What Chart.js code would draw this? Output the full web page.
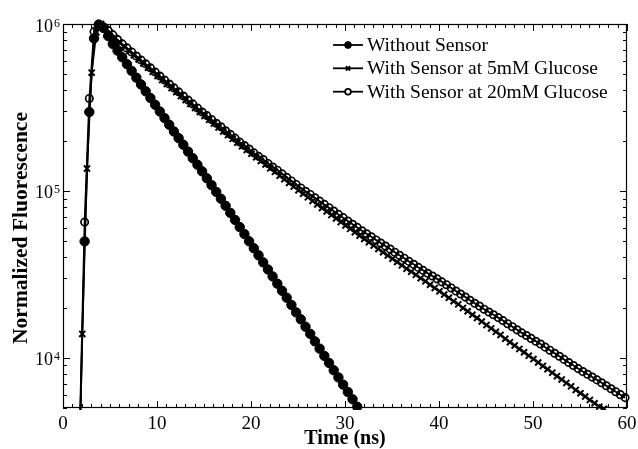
<!DOCTYPE html>
<html><head><meta charset="utf-8">
<script src="https://cdn.jsdelivr.net/npm/chart.js@4/dist/chart.umd.min.js"></script>
<style>html,body{margin:0;padding:0;background:#fff}#wrap{width:638px;height:449px}</style>
</head><body><div id="wrap"><canvas id="c" width="638" height="449"></canvas></div>
<script>
const seriesLabels = ['Without Sensor', 'With Sensor at 5mM Glucose', 'With Sensor at 20mM Glucose'];
const xTitle = 'Time (ns)';
const yTitle = 'Normalized Fluorescence';
const xTickValues = [0, 10, 20, 30, 40, 50, 60];
const xTickLabels = ['0', '10', '20', '30', '40', '50', '60'];
const yTickValues = [1e4, 1e5, 1e6];
const yTickBase = '10';
const yTickExponents = ['4', '5', '6'];

// time grid (ns) for "Without Sensor" and "20mM"
const timeA = [1.8,2.3,2.8,3.3,3.8,4.3,4.8,5.3,5.8,6.3,
6.8,7.3,7.8,8.3,8.8,9.3,9.8,10.3,10.8,11.3,
11.8,12.3,12.8,13.3,13.8,14.3,14.8,15.3,15.8,16.3,
16.8,17.3,17.8,18.3,18.8,19.3,19.8,20.3,20.8,21.3,
21.8,22.3,22.8,23.3,23.8,24.3,24.8,25.3,25.8,26.3,
26.8,27.3,27.8,28.3,28.8,29.3,29.8,30.3,30.8,31.3,
31.8,32.3,32.8,33.3,33.8,34.3,34.8,35.3,35.8,36.3,
36.8,37.3,37.8,38.3,38.8,39.3,39.8,40.3,40.8,41.3,
41.8,42.3,42.8,43.3,43.8,44.3,44.8,45.3,45.8,46.3,
46.8,47.3,47.8,48.3,48.8,49.3,49.8,50.3,50.8,51.3,
51.8,52.3,52.8,53.3,53.8,54.3,54.8,55.3,55.8,56.3,
56.8,57.3,57.8,58.3,58.8,59.3,59.8];

// time grid (ns) for "5mM"
const timeB = [1.55,2.05,2.55,3.05,3.55,4.05,4.55,5.05,5.55,6.05,
6.55,7.05,7.55,8.05,8.55,9.05,9.55,10.05,10.55,11.05,
11.55,12.05,12.55,13.05,13.55,14.05,14.55,15.05,15.55,16.05,
16.55,17.05,17.55,18.05,18.55,19.05,19.55,20.05,20.55,21.05,
21.55,22.05,22.55,23.05,23.55,24.05,24.55,25.05,25.55,26.05,
26.55,27.05,27.55,28.05,28.55,29.05,29.55,30.05,30.55,31.05,
31.55,32.05,32.55,33.05,33.55,34.05,34.55,35.05,35.55,36.05,
36.55,37.05,37.55,38.05,38.55,39.05,39.55,40.05,40.55,41.05,
41.55,42.05,42.55,43.05,43.55,44.05,44.55,45.05,45.55,46.05,
46.55,47.05,47.55,48.05,48.55,49.05,49.55,50.05,50.55,51.05,
51.55,52.05,52.55,53.05,53.55,54.05,54.55,55.05,55.55,56.05,
56.55,57.05,57.55];

const withoutSensor = [3500,49800,297000,820000,990000,946000,847000,
760000,693000,632000,575000,524000,477000,434000,395000,360000,328000,
299000,273000,249000,227000,207000,189000,172000,157000,143500,131000,
119000,108300,98600,89700,81400,73800,67000,60700,55100,49900,
45300,41100,37300,33800,30700,27800,25200,22900,20700,18700,
17000,15350,13900,12540,11340,10260,9310,8420,7620,6900,
6240,5640,5090];

const sensor5mM = [800,13900,136000,511000,891000,1000000,
935000,883000,824000,770000,728000,688000,649000,613000,579000,547000,
517000,488000,461000,437000,413000,391000,370000,350000,332000,314000,
297000,281000,267000,253000,240000,227000,216000,205000,194500,185000,
176000,167000,159000,151000,144000,136500,130000,123400,117400,111500,
106100,101000,96100,91500,87100,83000,79000,75300,71600,68300,
65000,62000,59200,56500,53900,51500,49200,47000,44900,42900,
41000,39200,37500,35800,34200,32800,31400,30000,28700,27400,
26200,25000,23900,22900,21800,20900,19900,19000,18100,17300,
16500,15700,15000,14300,13700,13000,12400,11850,11300,10790,
10290,9820,9370,8940,8530,8140,7760,7410,7070,6740,
6420,6130,5860,5590,5340,5090,4950];

const sensor20mM = [4000,65000,358000,900000,1000000,
963000,914000,861000,807000,760000,719000,680000,643000,609000,577000,
546000,516000,488000,462000,437000,414000,392000,370000,350000,332000,
314000,297000,282500,268000,254000,242000,229000,218000,207000,196000,
187000,178000,169000,161000,154000,146000,139000,133000,126500,120500,
114700,109300,104100,99400,95200,90900,86800,83000,79300,75700,
72300,69100,66000,63100,60400,57700,55300,53100,50800,48700,
46700,44800,42900,41100,39500,37800,36300,34800,33400,32100,
30900,29700,28500,27400,26200,25100,24100,23100,22100,21200,
20400,19550,18800,18100,17400,16700,16000,15350,14700,14100,
13600,13060,12560,12090,11580,11100,10640,10210,9780,9370,
8990,8610,8270,7960,7660,7370,7080,6790,6520,6260,
6010,5770];

const pairs = (ts, vs) => vs.map((v, i) => ({x: ts[i], y: v}));

const styles = [
  {pointStyle: 'circle', radius: 4.7, bg: '#000', bw: 1, legendRadius: 3.4},
  {pointStyle: 'crossRot', radius: 4.3, bg: '#000', bw: 2, legendRadius: 3},
  {pointStyle: 'circle', radius: 3.7, bg: 'rgba(0,0,0,0)', bw: 1.7, legendRadius: 2.9}
];
const seriesData = [pairs(timeA, withoutSensor), pairs(timeB, sensor5mM), pairs(timeA, sensor20mM)];

const SERIF = '"Liberation Serif", "Times New Roman", serif';

const framePlugin = {
  id: 'frame',
  afterDraw(chart) {
    const {ctx, chartArea: a, scales: {x, y}} = chart;
    ctx.save();
    ctx.strokeStyle = '#000';
    ctx.fillStyle = '#000';
    const seg = (x1, y1, x2, y2) => { ctx.beginPath(); ctx.moveTo(x1, y1); ctx.lineTo(x2, y2); ctx.stroke(); };
    // frame
    ctx.lineWidth = 1.2;
    ctx.strokeRect(a.left + 0.5, a.top + 0.5, a.right - a.left - 1, a.bottom - a.top - 1);
    ctx.lineWidth = 1;
    // x ticks (minor every 1 ns)
    for (let v = x.min; v <= x.max; v += 1) {
      const major = xTickValues.includes(v);
      const len = major ? 7 : 4;
      const px = Math.round(x.getPixelForValue(v)) + 0.5;
      seg(px, a.bottom, px, a.bottom - len);
      seg(px, a.top, px, a.top + len);
    }
    // y ticks
    const yTicks = [];
    for (let d = 1e3; d <= 1e6; d *= 10) {
      for (let m = 1; m <= 9; m++) {
        const v = d * m;
        if (v >= y.min && v <= y.max) yTicks.push({v, major: m === 1});
      }
    }
    yTicks.forEach(t => {
      const len = t.major ? 7 : 4;
      const py = Math.round(y.getPixelForValue(t.v)) + 0.5;
      seg(a.left, py, a.left + len, py);
      seg(a.right, py, a.right - len, py);
    });
    // x tick labels
    ctx.font = '19px ' + SERIF;
    ctx.textAlign = 'center';
    ctx.textBaseline = 'alphabetic';
    xTickValues.forEach((v, i) => ctx.fillText(xTickLabels[i], x.getPixelForValue(v), a.bottom + 21));
    // y tick labels 10^n
    yTickValues.forEach((v, i) => {
      const py = y.getPixelForValue(v);
      ctx.font = '18px ' + SERIF;
      ctx.textAlign = 'right';
      ctx.fillText(yTickBase, a.left - 10, py + 7.5);
      ctx.font = '12px ' + SERIF;
      ctx.textAlign = 'left';
      ctx.fillText(yTickExponents[i], a.left - 9, py + 2.5);
    });
    // axis titles
    ctx.font = 'bold 20px ' + SERIF;
    ctx.textAlign = 'center';
    ctx.fillText(xTitle, (a.left + a.right) / 2, 444);
    ctx.save();
    ctx.font = 'bold 21.5px ' + SERIF;
    ctx.translate(27, 228);
    ctx.rotate(-Math.PI / 2);
    ctx.fillText(yTitle, 0, 0);
    ctx.restore();
    // legend
    const rows = [45, 68.3, 91.7];
    ctx.font = '19.5px ' + SERIF;
    ctx.textAlign = 'left';
    ctx.textBaseline = 'middle';
    seriesLabels.forEach((lab, i) => {
      const ry = rows[i];
      ctx.lineWidth = 1.8;
      ctx.strokeStyle = '#000';
      seg(333, ry, 363, ry);
      ctx.fillStyle = styles[i].bg === '#000' ? '#000' : '#fff';
      ctx.lineWidth = styles[i].bw;
      Chart.helpers.drawPoint(ctx, {pointStyle: styles[i].pointStyle, radius: styles[i].legendRadius, rotation: 0, borderWidth: styles[i].bw}, 348, ry);
      ctx.fillStyle = '#000';
      ctx.fillText(lab, 367, ry + 1);
    });
    ctx.restore();
  }
};

new Chart(document.getElementById('c'), {
  type: 'line',
  data: {
    datasets: seriesLabels.map((lab, i) => ({
      label: lab,
      data: seriesData[i],
      borderColor: '#000',
      borderWidth: 1.8,
      backgroundColor: styles[i].bg,
      pointStyle: styles[i].pointStyle,
      pointRadius: styles[i].radius,
      pointBackgroundColor: styles[i].bg,
      pointBorderColor: '#000',
      pointBorderWidth: styles[i].bw,
      tension: 0,
      fill: false,
      clip: {left: 0, top: 6, right: 6, bottom: 2}
    }))
  },
  options: {
    responsive: false,
    animation: false,
    devicePixelRatio: 1,
    layout: {padding: {left: 0, right: 11, top: 24, bottom: 0}},
    plugins: {legend: {display: false}, tooltip: {enabled: false}},
    scales: {
      x: {
        type: 'linear', min: 0, max: 60,
        ticks: {display: false},
        grid: {display: false},
        border: {display: false},
        afterFit: s => { s.height = 41; }
      },
      y: {
        type: 'logarithmic', min: 5000, max: 1e6,
        ticks: {display: false},
        grid: {display: false},
        border: {display: false},
        afterFit: s => { s.width = 63; }
      }
    }
  },
  plugins: [framePlugin]
});
</script>
</body></html>
